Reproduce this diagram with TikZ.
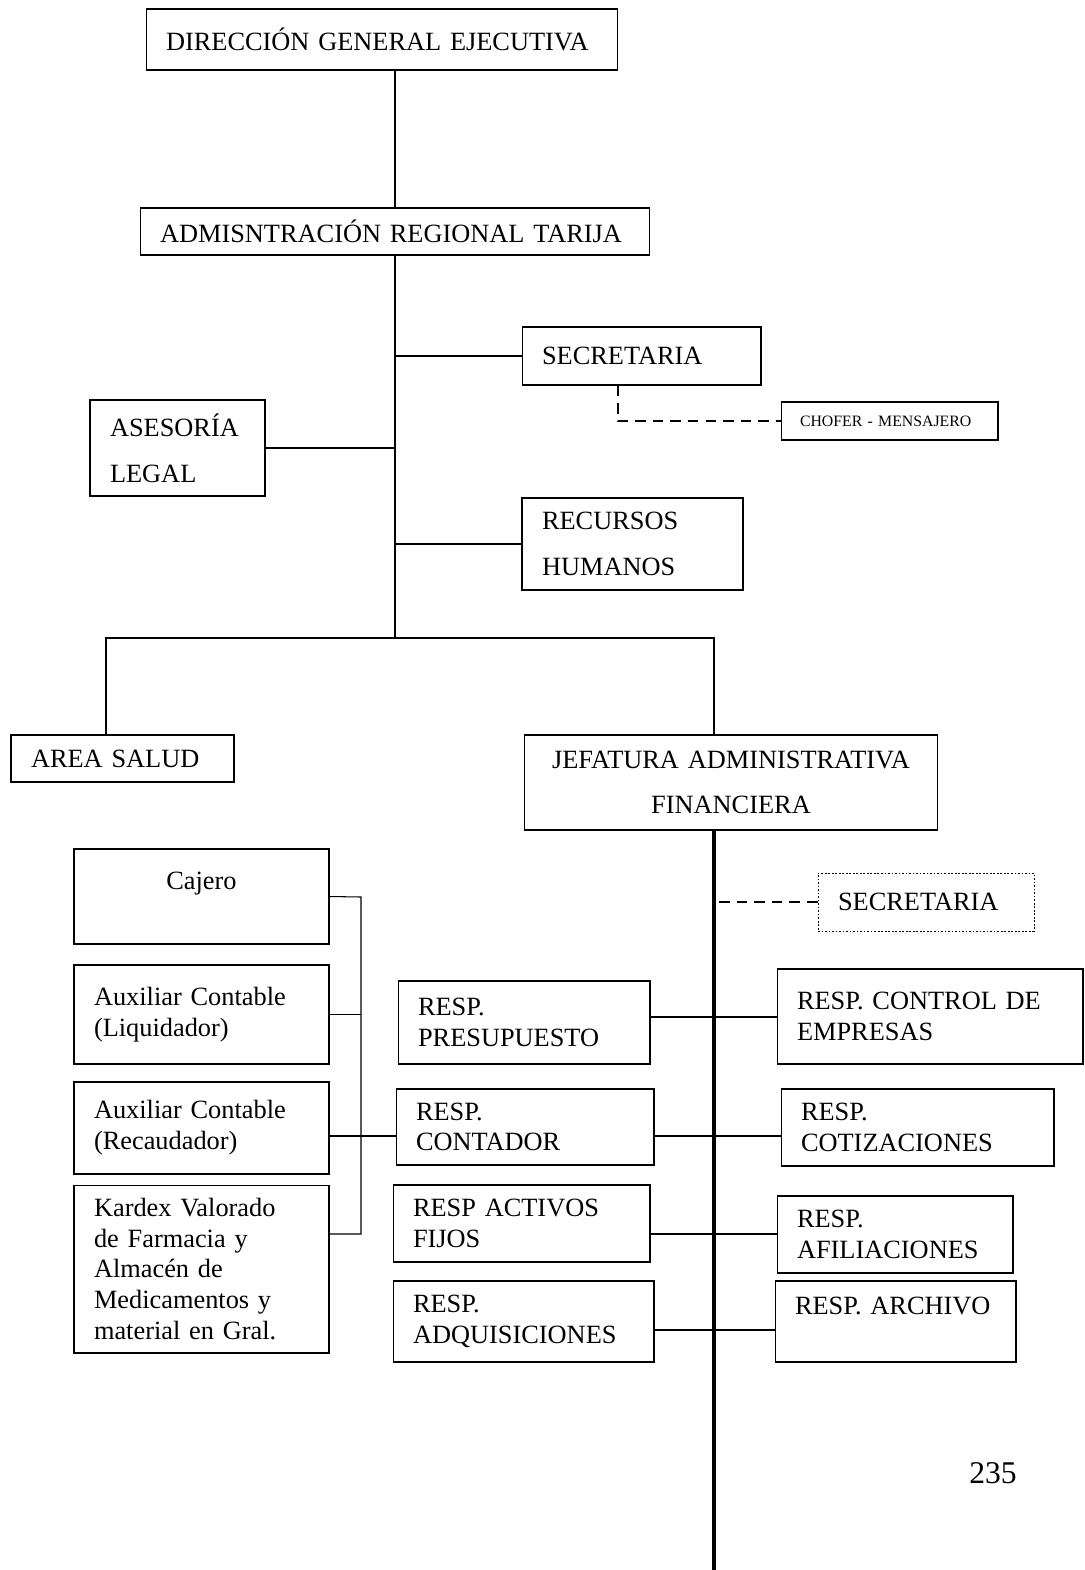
\documentclass[tikz,border=0pt]{standalone}
\usepackage{fontspec}
\setmainfont{Liberation Serif}
\usetikzlibrary{positioning}

\begin{document}
\begin{tikzpicture}[x=0.02cm, y=-0.02cm, line width=0.6pt]
	\useasboundingbox (0,0) rectangle (1085,1570);

	\begin{scope}[every node/.style={draw, rectangle, inner xsep=0.4cm, inner ysep=0pt,
	                                 align=left, font=\fontsize{15}{17.5}\selectfont}]
		% upper levels
		\node[text width=8.64cm, minimum height=1.22cm] (dir) at (382,39.5) {DIRECCIÓN GENERAL EJECUTIVA};
		\node[text width=9.4cm, minimum height=0.94cm] (adm) at (395,231.5) {ADMISNTRACIÓN REGIONAL TARIJA};
		\node[text width=3.98cm, minimum height=1.16cm] (sec) at (641.5,356) {SECRETARIA};
		\node[text width=3.58cm, minimum height=0.76cm, inner xsep=0.38cm,
		      font=\fontsize{9}{11}\selectfont] (chofer) at (889.5,421) {CHOFER - MENSAJERO};
		\node[text width=2.7cm, minimum height=1.92cm, font=\fontsize{15}{26}\selectfont] (ases) at (177.5,448) {ASESORÍA\\LEGAL};
		\node[text width=3.62cm, minimum height=1.84cm, font=\fontsize{15}{26}\selectfont] (rrhh) at (632.5,544) {RECURSOS\\HUMANOS};
		\node[text width=3.66cm, minimum height=0.94cm] (salud) at (122.5,758.5) {AREA SALUD};
		\node[text width=7.48cm, minimum height=1.9cm, align=center,
		      font=\fontsize{15}{26}\selectfont] (jefe) at (731,782.5) {JEFATURA ADMINISTRATIVA\\FINANCIERA};
		\node[text width=3.52cm, minimum height=1.16cm, line width=0.5pt,
		      dash pattern=on 1pt off 1pt] (sec2) at (926,902) {SECRETARIA};

		% left column
		\node[text width=4.3cm, minimum height=1.9cm, align=center] (caj) at (201.5,896.5) {Cajero\\ \mbox{}};
		\node[text width=4.3cm, minimum height=1.98cm] (liq) at (201.5,1014.5) {Auxiliar Contable\\(Liquidador)};
		\node[text width=4.3cm, minimum height=1.84cm] (rec) at (201.5,1128) {Auxiliar Contable\\(Recaudador)};
		\node[text width=4.3cm, minimum height=3.36cm] (kar) at (201.5,1269) {Kardex Valorado\\de Farmacia y\\Almacén de\\Medicamentos y\\material en Gral.};

		% responsables
		\node[text width=4.24cm, minimum height=1.66cm] (pre) at (524,1022.5) {RESP.\\PRESUPUESTO};
		\node[text width=5.32cm, minimum height=1.9cm] (emp) at (930,1016.5) {RESP. CONTROL DE\\EMPRESAS};
		\node[text width=4.36cm, minimum height=1.52cm] (cont) at (525,1127) {RESP.\\CONTADOR};
		\node[text width=4.66cm, minimum height=1.54cm] (cot) at (917.5,1127.5) {RESP.\\COTIZACIONES};
		\node[text width=4.34cm, minimum height=1.54cm] (act) at (521.5,1223.5) {RESP ACTIVOS\\FIJOS};
		\node[text width=3.92cm, minimum height=1.54cm] (afi) at (895,1234.5) {RESP.\\AFILIACIONES};
		\node[text width=4.42cm, minimum height=1.62cm] (adq) at (523.5,1321.5) {RESP.\\ADQUISICIONES};
		\node[text width=4.02cm, minimum height=1.62cm] (arc) at (895.5,1321.5) {RESP. ARCHIVO\\ \mbox{}};
	\end{scope}

	\node[font=\fontsize{18}{20}\selectfont] (pag) at (993,1473) {235};

	% junctions
	\coordinate (dropL) at (106,638);
	\coordinate (dropR) at (714,638);
	\coordinate (spineEnd) at (714,1570);
	\coordinate (brk) at (361,897);
	\coordinate (r1) at (714,1017);
	\coordinate (r2) at (714,1136);
	\coordinate (r3) at (714,1234);
	\coordinate (r4) at (714,1330);

	\draw (adm.north) -- (adm.north |- dir.south);
	\draw (adm.south) -- (adm.south |- dropL);
	\draw (sec.west) -- (sec.west -| adm.south);
	\draw (ases.east) -- (ases.east -| adm.south);
	\draw (rrhh.west) -- (rrhh.west -| adm.south);
	\draw (dropL |- salud.north) -- (dropL) -- (dropR) -- (dropR |- jefe.north);

	\begin{scope}[dash pattern=on 6pt off 4pt]
		\draw ([xshift=-0.47cm]sec.south) |- (chofer.west);
		\draw (sec2.west) -- (sec2.west -| dropR);
	\end{scope}

	% thick line under the jefatura
	\draw[line width=2pt] (jefe.south -| dropR) -- (spineEnd);

	\draw (pre.east |- r1) -- (emp.west |- r1);
	\draw (cont.east |- r2) -- (cot.west |- r2);
	\draw (act.east |- r3) -- (afi.west |- r3);
	\draw (adq.east |- r4) -- (arc.west |- r4);

	% bracket joining the left column
	\draw (caj.east) -- (brk) -- (brk |- r3) -- (kar.east |- r3);
	\draw (liq.east) -- (liq.east -| brk);
	\draw (rec.east |- r2) -- (cont.west |- r2);
\end{tikzpicture}
\end{document}
